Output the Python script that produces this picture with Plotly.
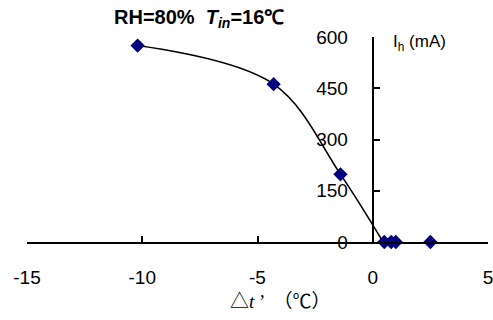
import plotly.graph_objects as go

# Data
dt_fit = [-10.2, -4.3, -1.4, 0.45]
ih_fit = [575, 462, 198, 0]
dt_pts = [-10.2, -4.3, -1.4, 0.5, 0.8, 1.0, 2.5]
ih_pts = [575, 462, 198, 0, 0, 0, 0]
x_ticks = [-15, -10, -5, 0, 5]
y_ticks = [0, 150, 300, 450, 600]

fig = go.Figure()
fig.add_trace(go.Scatter(x=dt_fit, y=ih_fit, mode="lines",
                         line=dict(color="black", width=1.6, shape="spline", smoothing=1.0),
                         cliponaxis=False, hoverinfo="skip"))
fig.add_trace(go.Scatter(x=dt_pts, y=ih_pts, mode="markers",
                         marker=dict(symbol="diamond", size=11, color="#000080",
                                     line=dict(width=0)),
                         cliponaxis=False))

tickfont = dict(family="Liberation Sans, Arial, sans-serif", size=19, color="black")

fig.update_layout(
    width=493, height=320,
    margin=dict(l=27, r=5, t=37, b=78, autoexpand=False),
    paper_bgcolor="white", plot_bgcolor="white",
    showlegend=False,
    xaxis=dict(range=[-15, 5], tickvals=x_ticks, ticktext=[str(v) for v in x_ticks],
               showgrid=False, zeroline=False, showline=True, linecolor="black", linewidth=2,
               ticks="inside", ticklen=6, tickwidth=1.5, tickcolor="black",
               tickfont=tickfont, ticklabelstandoff=17, anchor="y", automargin=False,
               ticklabeloverflow="allow"),
    yaxis=dict(range=[0, 600], tickvals=y_ticks, ticktext=[str(v) for v in y_ticks],
               showgrid=False, zeroline=False, showline=True, linecolor="black", linewidth=2,
               ticks="inside", ticklen=6, tickwidth=1.5, tickcolor="black",
               tickfont=tickfont, ticklabelstandoff=20, anchor="free", position=0.75,
               automargin=False, ticklabeloverflow="allow"),
)

fig.add_annotation(xref="paper", yref="paper", x=0.184, y=1.0, xanchor="left", yanchor="middle",
                   yshift=19,
                   text="<b>RH=80%  <i>T<sub>in</sub></i>=16℃</b>", showarrow=False,
                   font=dict(family="Liberation Sans, Arial, sans-serif", size=20, color="black"))
fig.add_annotation(xref="paper", yref="paper", x=0.79, y=1.0, xanchor="left", yanchor="middle",
                   yshift=-6,
                   text="I<sub>h</sub> (mA)", showarrow=False,
                   font=dict(family="Liberation Sans, Arial, sans-serif", size=17, color="black"))
fig.add_annotation(xref="paper", yref="paper", x=0.548, y=0, xanchor="center", yanchor="middle",
                   yshift=-59,
                   text="△<i>t</i> ’  （℃）",
                   showarrow=False,
                   font=dict(family="Liberation Serif, Noto Sans CJK SC, serif", size=19, color="black"))

fig.write_html("out.html", config={"displayModeBar": False},
               post_script="document.body.style.margin='0';")
